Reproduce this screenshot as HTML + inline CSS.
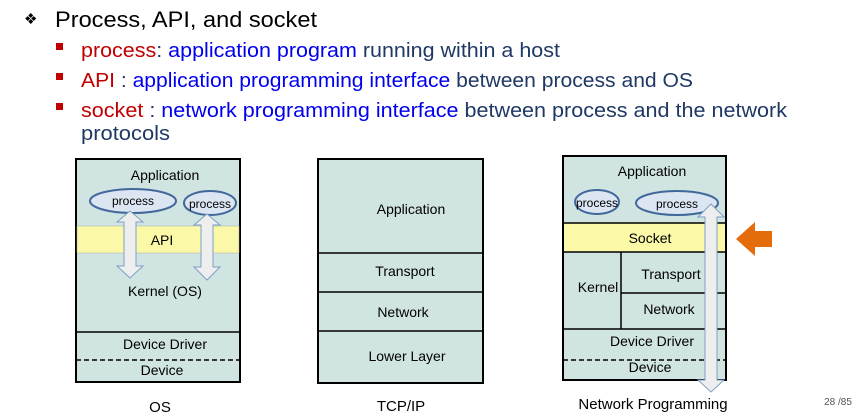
<!DOCTYPE html>
<html><head><meta charset="utf-8"><style>
html,body{margin:0;padding:0;background:#fff;width:855px;height:417px;overflow:hidden}
svg{display:block;font-family:"Liberation Sans",sans-serif}
</style></head><body>
<svg width="855" height="417" viewBox="0 0 855 417" xmlns="http://www.w3.org/2000/svg">
<text x="24" y="24" font-size="15" fill="#000">❖</text>
<text x="55" y="27" font-size="22" fill="#000" textLength="262" lengthAdjust="spacingAndGlyphs">Process, API, and socket</text>
<rect x="56" y="43" width="7" height="7" fill="#c00000"/>
<rect x="56" y="73" width="7" height="7" fill="#c00000"/>
<rect x="56" y="103" width="7" height="7" fill="#c00000"/>
<text x="81" y="57" font-size="20" textLength="479" lengthAdjust="spacingAndGlyphs"><tspan fill="#c00000">process</tspan><tspan fill="#1f3864">:  </tspan><tspan fill="#0000ee">application program</tspan><tspan fill="#1f3864"> running within a host</tspan></text>
<text x="81" y="87" font-size="20" textLength="612" lengthAdjust="spacingAndGlyphs"><tspan fill="#c00000">API</tspan><tspan fill="#1f3864"> : </tspan><tspan fill="#0000ee">application programming interface</tspan><tspan fill="#1f3864"> between process and OS</tspan></text>
<text x="81" y="117" font-size="20" textLength="706" lengthAdjust="spacingAndGlyphs"><tspan fill="#c00000">socket</tspan><tspan fill="#1f3864"> : </tspan><tspan fill="#0000ee">network programming interface</tspan><tspan fill="#1f3864"> between process and the network</tspan></text>
<text x="81" y="140" font-size="20" fill="#1f3864" textLength="89" lengthAdjust="spacingAndGlyphs">protocols</text>

<g font-size="14" fill="#000" text-anchor="middle">
<rect x="76" y="159" width="164" height="223" fill="#d0e4e2" stroke="#000" stroke-width="2"/>
<rect x="77" y="226" width="162" height="27" fill="#fbf9a8" stroke="#aaa" stroke-width="0.5"/>
<line x1="76" y1="332" x2="240" y2="332" stroke="#000" stroke-width="1.5"/>
<line x1="76" y1="360" x2="240" y2="360" stroke="#000" stroke-width="1.5" stroke-dasharray="5,3"/>
<text x="165" y="180">Application</text>
<ellipse cx="133" cy="201" rx="43" ry="12" fill="#dce6f2" stroke="#41689a" stroke-width="2"/>
<text x="133" y="205" font-size="12">process</text>
<ellipse cx="210" cy="203" rx="26" ry="12" fill="#dce6f2" stroke="#41689a" stroke-width="2"/>
<text x="210" y="208" font-size="12">process</text>
<text x="162" y="245">API</text>
<polygon points="130,211 117,222 124,222 124,266 117,266 130,278 143,266 136,266 136,222 143,222" fill="#eeeeee" stroke="#7da0c4" stroke-width="1"/>
<polygon points="207,214 194,225 201,225 201,267 194,267 207,280 220,267 213,267 213,225 220,225" fill="#eeeeee" stroke="#7da0c4" stroke-width="1"/>
<text x="165" y="296">Kernel (OS)</text>
<text x="165" y="349">Device Driver</text>
<text x="162" y="375">Device</text>
<text x="160" y="412" font-size="15">OS</text>

<rect x="318" y="159" width="165" height="224" fill="#d0e4e2" stroke="#000" stroke-width="2"/>
<line x1="318" y1="253" x2="483" y2="253" stroke="#000" stroke-width="1.5"/>
<line x1="318" y1="292" x2="483" y2="292" stroke="#000" stroke-width="1.5"/>
<line x1="318" y1="331" x2="483" y2="331" stroke="#000" stroke-width="1.5"/>
<text x="411" y="214">Application</text>
<text x="405" y="276">Transport</text>
<text x="403" y="317">Network</text>
<text x="407" y="361">Lower Layer</text>
<text x="401" y="411" font-size="15">TCP/IP</text>

<rect x="563" y="156" width="163" height="224" fill="#d0e4e2" stroke="#000" stroke-width="2"/>
<rect x="564" y="223" width="161" height="29" fill="#fbf9a8"/>
<line x1="563" y1="223" x2="726" y2="223" stroke="#000" stroke-width="1.5"/>
<line x1="563" y1="252" x2="726" y2="252" stroke="#000" stroke-width="1.5"/>
<line x1="621" y1="252" x2="621" y2="329" stroke="#000" stroke-width="1.5"/>
<line x1="621" y1="293" x2="726" y2="293" stroke="#000" stroke-width="1.5"/>
<line x1="563" y1="329" x2="726" y2="329" stroke="#000" stroke-width="1.5"/>
<line x1="563" y1="360" x2="726" y2="360" stroke="#000" stroke-width="1.5" stroke-dasharray="5,3"/>
<text x="652" y="176">Application</text>
<ellipse cx="597" cy="202" rx="22" ry="12" fill="#dce6f2" stroke="#41689a" stroke-width="2"/>
<text x="597" y="207" font-size="12">process</text>
<ellipse cx="677" cy="203" rx="41" ry="12" fill="#dce6f2" stroke="#41689a" stroke-width="2"/>
<text x="677" y="208" font-size="12">process</text>
<text x="650" y="243">Socket</text>
<text x="598" y="292">Kernel</text>
<text x="671" y="279">Transport</text>
<text x="669" y="314">Network</text>
<text x="652" y="346">Device Driver</text>
<text x="650" y="372">Device</text>
<polygon points="711,204 698,217 705,217 705,380 698,380 711,392 724,380 717,380 717,217 724,217" fill="#eeeeee" stroke="#7da0c4" stroke-width="1"/>
<text x="653" y="409" font-size="15">Network Programming</text>
<polygon points="736,239 755,222 755,231 772,231 772,247 755,247 755,256" fill="#e46c0a"/>
<text x="838" y="405" font-size="10" fill="#555">28 /85</text>
</g>
</svg>
</body></html>
